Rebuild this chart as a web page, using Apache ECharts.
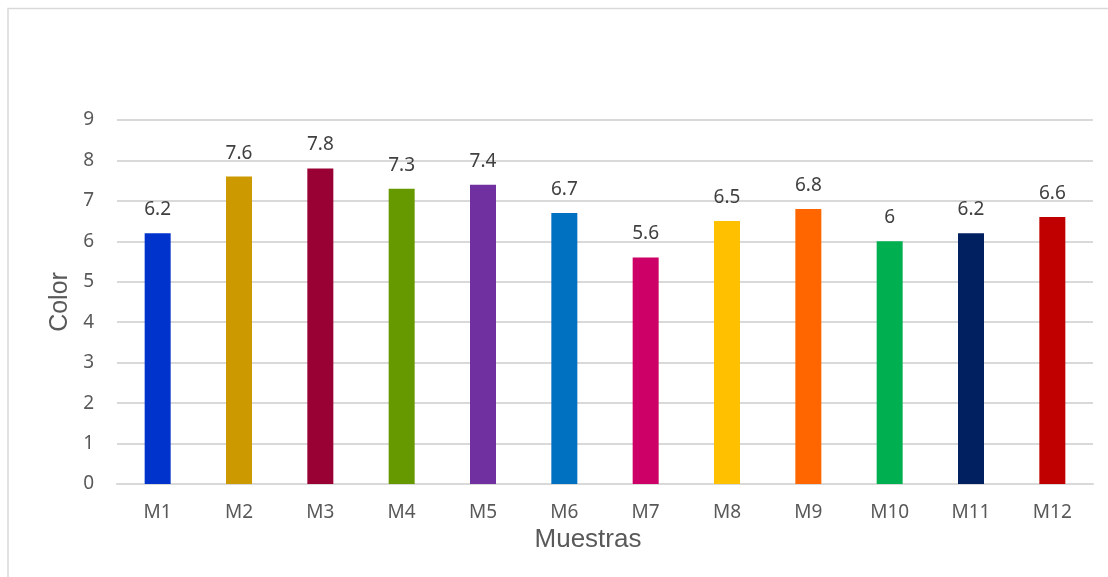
<!DOCTYPE html>
<html>
<head>
<meta charset="utf-8">
<script src="https://cdn.jsdelivr.net/npm/echarts@6/dist/echarts.min.js"></script>
<style>
  html, body { margin: 0; padding: 0; background: #fff; }
  #chart { width: 1108px; height: 577px; }
</style>
</head>
<body>
<div id="chart"></div>
<script>
const categories = ['M1', 'M2', 'M3', 'M4', 'M5', 'M6', 'M7', 'M8', 'M9', 'M10', 'M11', 'M12'];
const values = [6.2, 7.6, 7.8, 7.3, 7.4, 6.7, 5.6, 6.5, 6.8, 6, 6.2, 6.6];
const barColors = ['#0033CC', '#CC9900', '#990033', '#669900', '#7030A0', '#0070C0',
  '#CC0066', '#FFC000', '#FF6600', '#00B050', '#002060', '#C00000'];

const chart = echarts.init(document.getElementById('chart'));
chart.setOption({
  animation: false,
  // outer frame: only top and left edges are visible in the picture
  graphic: [{
    type: 'polyline',
    shape: { points: [[8, 580], [8, 8.5], [1110, 8.5]] },
    style: { fill: 'none', stroke: '#d9d9d9', lineWidth: 1.5 },
    silent: true
  }],
  grid: { left: 117, right: 15, top: 120, bottom: 93 },
  xAxis: {
    type: 'category',
    data: categories,
    name: 'Muestras',
    nameLocation: 'middle',
    nameGap: 39,
    nameTextStyle: { fontFamily: 'Liberation Sans', fontSize: 26, color: '#595959', padding: [0, 34, 0, 0] },
    axisLine: { lineStyle: { color: '#d9d9d9', width: 2 } },
    axisTick: { show: false },
    axisLabel: { fontFamily: 'Noto Sans', fontSize: 19, color: '#595959', margin: 19 }
  },
  yAxis: {
    type: 'value',
    min: 0,
    max: 9,
    interval: 1,
    name: 'Color',
    nameLocation: 'middle',
    nameGap: 44,
    nameTextStyle: { fontFamily: 'Liberation Sans', fontSize: 25, color: '#595959' },
    axisLine: { show: false },
    axisTick: { show: false },
    axisLabel: { fontFamily: 'Noto Sans', fontSize: 19, color: '#595959', margin: 23 },
    splitLine: { lineStyle: { color: '#d9d9d9', width: 2 } }
  },
  series: [{
    type: 'bar',
    barWidth: 26,
    data: values.map((v, i) => ({ value: v, itemStyle: { color: barColors[i] } })),
    label: {
      show: true,
      position: 'top',
      distance: 14,
      fontFamily: 'Noto Sans',
      fontSize: 19,
      color: '#404040'
    }
  }]
});
</script>
</body>
</html>
